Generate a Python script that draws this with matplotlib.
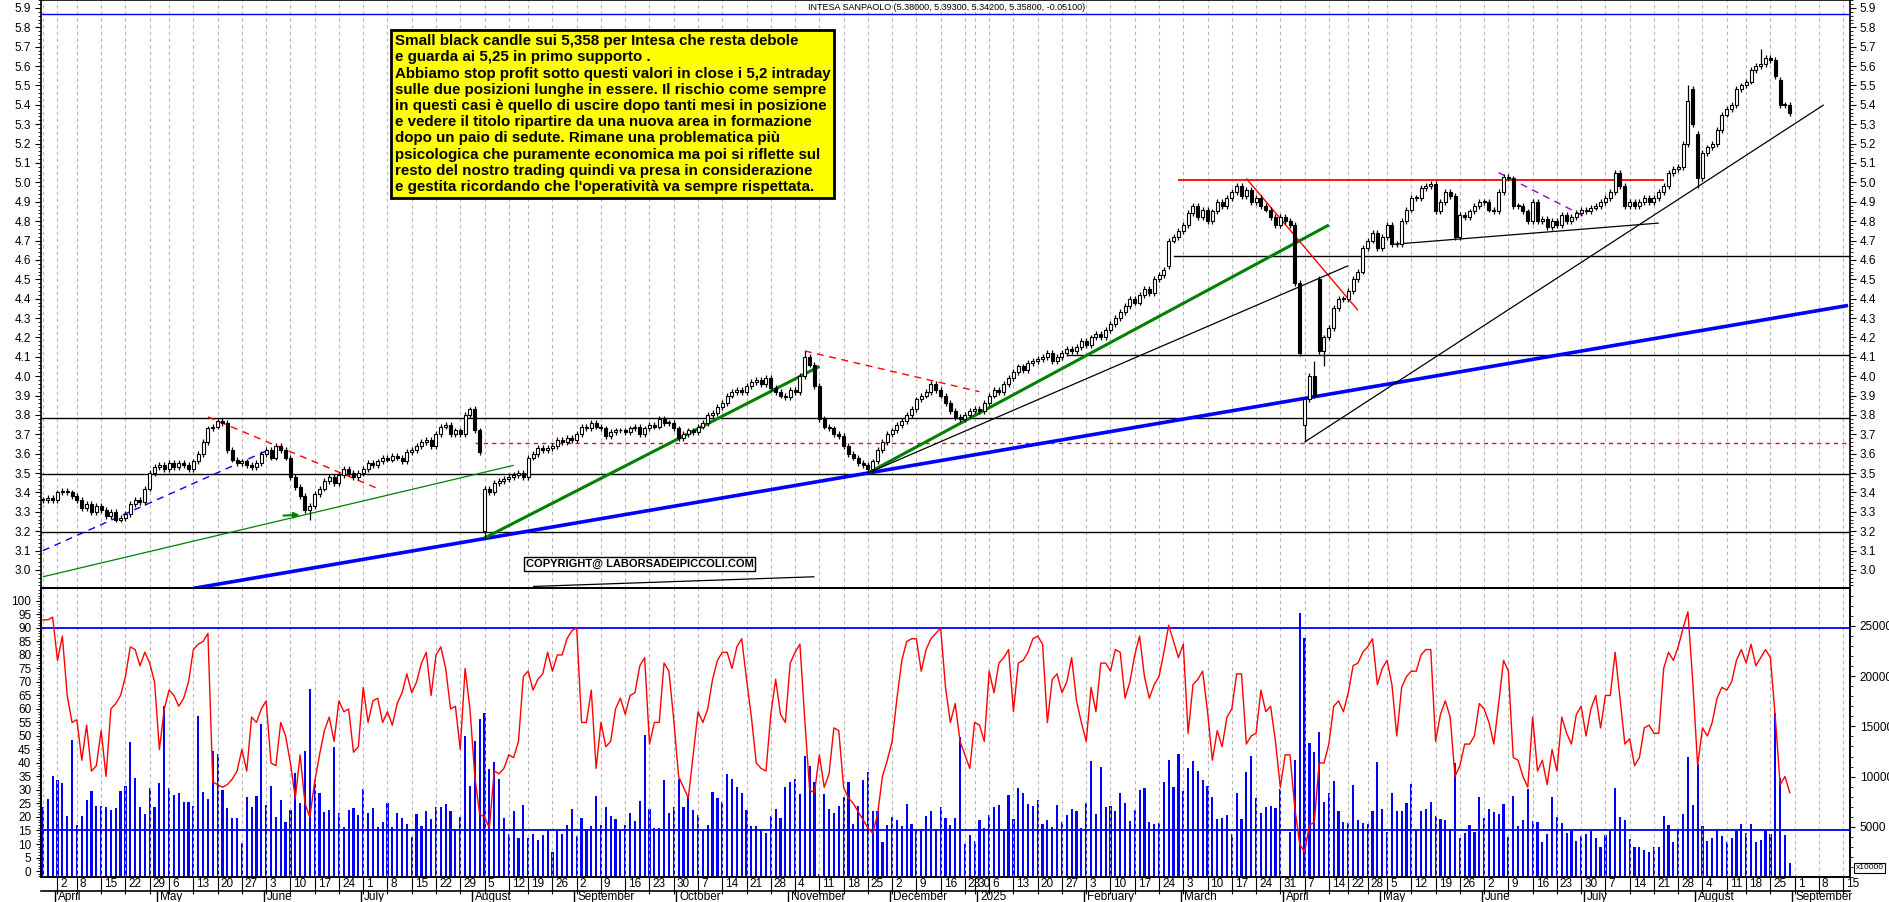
import numpy as np
import pandas as pd
import matplotlib
matplotlib.use("Agg")
import matplotlib.pyplot as plt
import matplotlib.transforms as mt
from matplotlib.lines import Line2D

plt.rcParams["font.family"] = "Liberation Sans"

# ---------------- DATA ----------------
holidays = ["2024-03-29", "2024-04-01", "2024-05-01", "2024-08-15", "2024-12-24",
            "2024-12-25", "2024-12-26", "2024-12-31", "2025-01-01", "2025-04-18",
            "2025-04-21", "2025-05-01", "2025-08-15"]

closes = [
    3.36, 3.37, 3.36,
    3.40, 3.41, 3.40, 3.38,
    3.36, 3.32, 3.34, 3.30, 3.33,
    3.31, 3.28, 3.30, 3.26, 3.27,
    3.29, 3.34, 3.36, 3.35, 3.42,
    3.50, 3.53, 3.54, 3.52,
    3.55, 3.53, 3.55, 3.54, 3.52,
    3.56, 3.60, 3.66, 3.73, 3.74,
    3.77, 3.76, 3.62, 3.57, 3.55,
    3.56, 3.54, 3.53, 3.55, 3.60,
    3.62, 3.58, 3.64, 3.62, 3.58,
    3.48, 3.43, 3.38, 3.31, 3.33,
    3.39, 3.42, 3.46, 3.48, 3.45,
    3.49, 3.52, 3.50, 3.48, 3.50,
    3.52, 3.55, 3.54, 3.56, 3.58,
    3.57, 3.59, 3.58, 3.56, 3.61,
    3.62, 3.64, 3.66, 3.67, 3.64,
    3.70, 3.74, 3.75, 3.70, 3.72,
    3.70, 3.80, 3.83, 3.72, 3.61,
    3.42, 3.40, 3.45, 3.46, 3.47,
    3.48, 3.49, 3.50, 3.48,
    3.58, 3.60, 3.63, 3.62, 3.63,
    3.64, 3.67, 3.66, 3.68, 3.67,
    3.70, 3.74, 3.73, 3.76, 3.74,
    3.73, 3.69, 3.71, 3.72, 3.72,
    3.71, 3.73, 3.74, 3.70, 3.73,
    3.75, 3.74, 3.78, 3.76, 3.76,
    3.73, 3.68, 3.70, 3.72, 3.71,
    3.74, 3.76, 3.80, 3.81, 3.84,
    3.86, 3.90, 3.92, 3.93, 3.92,
    3.95, 3.97, 3.98, 3.96, 3.99,
    3.94, 3.92, 3.90, 3.89, 3.93,
    3.92, 4.00, 4.10, 4.06, 3.95,
    3.78, 3.74, 3.73, 3.70, 3.69,
    3.64, 3.60, 3.58, 3.55, 3.54,
    3.52, 3.56, 3.62, 3.66, 3.70,
    3.72, 3.75, 3.77, 3.80, 3.83,
    3.88, 3.90, 3.92, 3.96, 3.93,
    3.90, 3.86, 3.82, 3.79, 3.78,
    3.80, 3.82,
    3.83, 3.82, 3.86,
    3.90, 3.93, 3.92, 3.96, 3.99,
    4.02, 4.05, 4.03, 4.07, 4.08,
    4.09, 4.10, 4.12, 4.08, 4.10,
    4.12, 4.14, 4.13, 4.15, 4.18,
    4.16, 4.20, 4.22, 4.20, 4.24,
    4.27, 4.30, 4.33, 4.36, 4.40,
    4.38, 4.42, 4.45, 4.43, 4.50,
    4.52, 4.55, 4.70, 4.72, 4.75,
    4.78, 4.84, 4.88, 4.82, 4.86,
    4.80, 4.85, 4.90, 4.88, 4.92,
    4.95, 4.98, 4.93, 4.96, 4.90,
    4.92, 4.88, 4.86, 4.82, 4.78,
    4.82, 4.80, 4.78, 4.48, 4.12,
    3.88, 4.00, 3.90, 4.13, 4.20,
    4.25, 4.35, 4.40, 4.40,
    4.44, 4.50, 4.54, 4.66,
    4.70, 4.74, 4.66, 4.72,
    4.78, 4.68, 4.68, 4.80, 4.86,
    4.92, 4.92, 4.97, 4.98, 4.99,
    4.85, 4.90, 4.95, 4.93, 4.72,
    4.83, 4.82, 4.85, 4.88, 4.90,
    4.90, 4.86, 4.85, 4.95, 5.03,
    5.02, 4.88, 4.88, 4.85, 4.80,
    4.90, 4.80, 4.81, 4.77, 4.80,
    4.78, 4.83, 4.80, 4.82, 4.84,
    4.86, 4.85, 4.87, 4.88, 4.90,
    4.92, 4.95, 5.05, 4.98, 4.88,
    4.90, 4.88, 4.90, 4.92, 4.90,
    4.92, 4.95, 4.98, 5.05, 5.07,
    5.08, 5.20, 5.42, 5.30, 5.02,
    5.15, 5.18, 5.20, 5.27, 5.35,
    5.38, 5.40, 5.48, 5.50,
    5.52, 5.58, 5.60, 5.61, 5.64,
    5.63, 5.55, 5.40, 5.40, 5.36,
]

gap_opens = {"2024-08-05": 3.20, "2025-04-07": 3.75, "2025-04-10": 4.50,
             "2025-07-31": 5.48, "2025-08-01": 5.25, "2025-08-27": 5.53,
             "2025-02-26": 4.57}
special_lows = {"2024-08-05": 3.16, "2025-04-07": 3.66, "2025-04-11": 4.05,
                "2025-08-01": 4.97, "2024-06-14": 3.26, "2024-11-25": 3.50}
special_highs = {"2024-11-06": 4.13, "2024-07-31": 3.84, "2025-04-09": 4.08,
                 "2025-08-21": 5.69, "2025-07-30": 5.50}

oscillator = [
    93, 93, 94, 78, 87, 65, 55, 56, 41, 54, 37, 39, 52, 35, 60, 62, 65, 72, 83, 82,
    76, 81, 77, 70, 45, 60, 67, 65, 61, 64, 70, 82, 84, 85, 88, 33, 32, 31, 32, 34,
    37, 45, 37, 57, 55, 60, 63, 40, 39, 55, 50, 40, 27, 43, 25, 20, 33, 43, 52, 57,
    48, 63, 59, 60, 44, 46, 68, 55, 63, 64, 55, 59, 54, 62, 66, 73, 66, 70, 77, 81,
    65, 80, 83, 75, 60, 61, 45, 75, 60, 35, 21,
    20, 16, 37, 36, 38, 43, 42, 48, 72, 74, 67, 71, 73, 81, 74, 80, 80, 86, 89, 90,
    55, 55, 67, 38, 55, 46, 48, 60, 64, 58, 65, 66, 76, 79, 47, 55, 55, 77, 74, 56,
    35, 31, 27, 43, 59, 55, 60, 71, 78, 81, 81, 75, 83, 86, 71, 57, 40, 38, 37, 58,
    71, 58, 55, 77, 81, 84, 56, 30, 29, 43, 31, 36, 53, 52, 31, 27, 25, 22, 19, 16,
    14, 21, 35, 41, 48, 64, 78, 85, 86, 86, 74, 82, 86, 88, 90, 68, 55, 62, 48, 43,
    38, 55, 54,
    48, 74, 66, 77, 79, 82, 59, 77, 78, 81, 86, 87, 84, 55, 71, 73, 66, 70, 79, 63,
    55, 48, 68, 59, 77, 77, 74, 82, 81, 64, 70, 80, 87, 72, 64, 69, 72, 81, 91, 85,
    79, 84, 51, 69, 71, 74, 59, 41, 52, 46, 57, 60, 73, 73, 47, 50, 51, 67, 59, 61,
    48, 31, 43, 43, 23, 10, 7, 17, 18, 40, 40, 47, 61, 63, 59, 66, 76, 77, 81, 83,
    86, 69, 75, 78, 69, 50, 68, 72, 74, 74, 80, 82, 82, 48, 58, 63, 57, 35, 39,
    47, 47, 50, 62, 60, 55, 47, 62, 78, 74, 42, 41, 35, 31, 57, 37, 41, 32, 45, 37,
    57, 51, 47, 58, 61, 50, 60, 65, 53, 65, 65, 81, 64, 47, 49, 39, 42, 53, 54, 51,
    51, 75, 81, 78, 83, 90, 96, 70, 39, 53, 50, 55, 64, 68, 67, 70, 78, 82, 77, 84,
    76, 79, 82, 79, 57, 32, 35, 29,
]

volume = [
    7000, 7760, 10100, 9670, 9400, 6100, 13640, 5180, 6070, 7670, 8560, 7100, 7100, 7000,
    6670, 6830, 8560, 9030, 13400, 9830, 7000, 6240, 8900, 6940, 9360, 17000, 8830, 8170,
    8330, 7430, 7430, 7100, 16040, 8430, 7760, 12500, 12240, 8700, 6830, 5830, 5830, 3350,
    7930, 7000, 8100, 15220, 7170, 9070, 6000, 7670, 5500, 6670, 10400, 7400, 12500, 18700,
    9640, 8330, 6440, 6670, 12900, 6400, 4950, 6670, 6830, 6170, 8760, 6340, 6900, 4950,
    5500, 7330, 4980, 6340, 5900, 5250, 3960, 6300, 5080, 6600, 5800, 7000, 7000, 7270,
    6600, 4780, 6000, 14040, 9100, 13500, 15700,
    16300, 10800, 11500, 9800, 5900, 4300, 6600, 3900, 7200, 3900, 4300, 3700, 4200, 4800,
    2500, 4600, 4300, 5200, 6800, 4100, 5900, 4800, 5100, 8100, 5200, 7000, 6100, 5800,
    4700, 5200, 6400, 5600, 7600, 14100, 6800, 4900, 4900, 9700, 6400, 7000, 9800, 7000,
    8100, 6700, 6200, 4600, 5200, 8500, 7900, 7500, 10300, 9800, 9000, 8400, 6700, 5100,
    5100, 4700, 4400, 6100, 6800, 5900, 9000, 9500, 9800, 8300, 12100, 11100, 9500, 300,
    8300, 6800, 6400, 7100, 8000, 9500, 5300, 7100, 9700, 10500, 6600, 6600, 3500, 5200,
    6000, 5700, 5100, 7300, 5300, 4800, 4800, 6100, 6600, 4800, 7000, 5900, 5200, 5900,
    13900, 3300, 4200, 3600, 5700,
    4840, 6180, 6940, 7170, 4680, 8170, 5740, 8860, 8400, 7240, 7080, 7670, 5250, 5680,
    4980, 7170, 5480, 6180, 6770, 6610, 4840, 7340, 11550, 6270, 10920, 6940, 7080, 6610,
    8400, 7340, 5580, 6670, 8660, 8900, 5450, 5280, 5350, 9500, 11650, 8960, 12250, 8560,
    10890, 11550, 10520, 9630, 9100, 7970, 5810, 5840, 6140, 4280, 8400, 5780, 10490, 12050,
    7870, 6410, 6940, 7080, 6840, 8760, 100, 4510, 11650, 26330, 23840, 13380, 12420, 14440,
    7500, 8360, 9600, 6570, 5450, 5350, 9130, 5680, 5350, 5310, 6570, 11450, 6770, 4510,
    8330, 6610, 6610, 7340, 9260, 4680, 6570, 6770, 7430, 6040, 5740, 5680, 4780, 11350,
    3920, 4350, 5180, 4520, 8000, 5840, 6740, 6510, 6270, 7240, 4020, 8070, 5080, 5680,
    8730, 5580, 5440, 3520, 4250, 8000, 5940, 5350, 4350, 4580, 3620, 4120, 4280, 4610,
    3920, 2950, 4150, 4580, 8830, 6010, 5680, 3780, 2950, 2950, 2690, 2460, 2950, 2950,
    6080, 5180, 3450, 4750, 6240, 11980, 7140, 11220, 5080, 3620, 3850, 4780, 4120, 3450,
    3920, 4550, 5280, 4350, 5280, 3450, 3690, 4680, 4250, 16300, 9830, 4180, 1360,
]

price_ticks = [round(3.0 + 0.1 * k, 1) for k in range(30)]
osc_ticks = list(range(0, 101, 5))
vol_ticks = [5000, 10000, 15000, 20000, 25000]

h_lines = [  # (price, start date or None, colour, style, width)
    (5.87, None, "blue", "-", 1.0),
    (4.62, "2025-02-27", "black", "-", 1.0),
    (4.11, "2025-01-28", "black", "-", 1.0),
    (3.785, None, "black", "-", 1.0),
    (3.495, None, "black", "-", 1.0),
    (3.195, None, "black", "-", 1.0),
    (3.655, "2024-08-01", "red", (0, (3, 3)), 1.0),
]
seg_lines = [  # (date1, p1, date2, p2, colour, style, width)
    ("2024-05-13", 2.905, "2025-09-16", 4.365, "blue", "-", 2.6),
    ("2024-08-05", 3.165, "2024-11-11", 4.05, "green", "-", 2.2),
    ("2024-11-25", 3.50, "2025-04-14", 4.78, "green", "-", 2.2),
    ("2024-03-26", 2.965, "2024-08-13", 3.54, "green", "-", 0.9),
    ("2024-03-26", 3.10, "2024-06-04", 3.625, "blue", (0, (5, 4)), 1.0),
    ("2024-05-16", 3.79, "2024-07-04", 3.42, "red", (0, (5, 4)), 1.0),
    ("2024-11-06", 4.13, "2025-01-02", 3.92, "red", (0, (5, 4)), 1.0),
    ("2025-03-20", 5.02, "2025-04-24", 4.34, "red", "-", 1.0),
    ("2025-02-28", 5.01, "2025-07-23", 5.01, "red", "-", 1.3),
    ("2024-11-25", 3.50, "2025-04-22", 4.57, "black", "-", 0.9),
    ("2025-04-07", 3.66, "2025-09-09", 5.40, "black", "-", 0.9),
    ("2025-05-06", 4.68, "2025-07-22", 4.79, "black", "-", 0.9),
    ("2025-06-05", 5.05, "2025-07-01", 4.82, "darkviolet", (0, (5, 4)), 1.0),
    ("2024-08-20", 2.915, "2024-11-08", 2.965, "black", "-", 0.9),
]

comment = ("Small black candle sui 5,358 per Intesa che resta debole\n"
           "e guarda ai 5,25 in primo supporto .\n"
           "Abbiamo stop profit sotto questi valori in close i 5,2 intraday\n"
           "sulle due posizioni lunghe in essere. Il rischio come sempre\n"
           "in questi casi è quello di uscire dopo tanti mesi in posizione\n"
           "e vedere il titolo ripartire da una nuova area in formazione\n"
           "dopo un paio di sedute. Rimane una problematica più\n"
           "psicologica che puramente economica ma poi si riflette sul\n"
           "resto del nostro trading quindi va presa in considerazione\n"
           "e gestita ricordando che l'operatività va sempre rispettata.")
title = "INTESA SANPAOLO (5.38000, 5.39300, 5.34200, 5.35800, -0.05100)"
months_it = {1: "2025", 2: "February", 3: "March", 4: "April", 5: "May", 6: "June",
             7: "July", 8: "August", 9: "September", 10: "October", 11: "November",
             12: "December"}

# ---------------- CALENDAR ----------------
cal = pd.bdate_range("2024-03-26", "2025-09-20")
cal = cal[~cal.isin(pd.to_datetime(holidays))]
pos = {d.strftime("%Y-%m-%d"): i for i, d in enumerate(cal)}
n = len(closes)
x = np.arange(n)
c = np.array(closes)
o = np.empty(n)
o[0] = c[0]
o[1:] = c[:-1]
for d, v in gap_opens.items():
    o[pos[d]] = v
hi = np.maximum(o, c) + 0.015
lo = np.minimum(o, c) - 0.015
for d, v in special_lows.items():
    lo[pos[d]] = v
for d, v in special_highs.items():
    hi[pos[d]] = v

W, H = 1890, 902
fig = plt.figure(figsize=(W / 100, H / 100), dpi=100)
L, R = 41, 1850
XMIN = -0.4
XMAX = 372.4

ax = fig.add_axes([L / W, (H - 588) / H, (R - L) / W, 588 / H])
axv = fig.add_axes([L / W, (H - 877) / H, (R - L) / W, (877 - 588) / H])
axr = axv.twinx()

for a in (ax, axv, axr):
    a.set_xlim(XMIN, XMAX)

ax.set_ylim(2.907, 5.941)
axv.set_ylim(-2.22, 104.8)
axr.set_ylim(0, 28784)

weeks = pd.Series(cal).groupby(cal.to_period("W")).first().tolist()
week_idx = [cal.get_loc(d) for d in weeks]
for a in (ax, axv):
    for wi in week_idx:
        if XMIN < wi < XMAX:
            a.axvline(wi, color="#b4b4b4", lw=0.8, ls=(0, (3, 3)), zorder=0)

for p, start, col, ls, lw in h_lines:
    x0 = XMIN if start is None else pos[start]
    ax.plot([x0, XMAX], [p, p], color=col, ls=ls, lw=lw, zorder=2)
for d1, p1, d2, p2, col, ls, lw in seg_lines:
    ax.plot([pos[d1], pos[d2]], [p1, p2], color=col, ls=ls, lw=lw, zorder=2,
            solid_capstyle="butt")
ax.annotate("", xy=(pos["2024-06-12"] + 0.5, 3.285), xytext=(pos["2024-06-11"] - 3, 3.28),
            arrowprops=dict(arrowstyle="-|>", color="green", lw=1.5, mutation_scale=8))

# candles
ax.vlines(x, lo, hi, color="black", lw=0.9, zorder=3)
up = c >= o
body_h = np.maximum(np.abs(c - o), 0.004)
ax.bar(x[up], body_h[up], bottom=np.minimum(o, c)[up], width=0.62, color="white",
       edgecolor="black", lw=0.8, zorder=4)
ax.bar(x[~up], body_h[~up], bottom=np.minimum(o, c)[~up], width=0.62, color="black",
       edgecolor="black", lw=0.8, zorder=4)

ax.text(pos["2024-07-10"] - 0.5, 5.765, comment, fontsize=10.9, fontweight="bold",
        va="top", ha="left", linespacing=1.2, zorder=6,
        bbox=dict(boxstyle="square,pad=0.25", fc="yellow", ec="black", lw=2))
ax.text(pos["2024-08-20"] - 1.5, 3.03, "COPYRIGHT@ LABORSADEIPICCOLI.COM", fontsize=8,
        fontweight="bold", va="center", ha="left", zorder=6,
        bbox=dict(boxstyle="square,pad=0.15", fc="white", ec="black", lw=1))
fig.text(808 / W, 1 - 7 / H, title, fontsize=6.5, va="center", ha="left")

ax.set_yticks(price_ticks)
ax.set_yticklabels([f"{t:.1f}" for t in price_ticks])
ax.set_yticks(np.arange(2.92, 5.94, 0.02), minor=True)
ax.tick_params(axis="y", which="both", left=True, right=True, labelleft=True,
               labelright=True, direction="out", labelsize=8.5)
ax.tick_params(axis="y", which="minor", length=2)
ax.tick_params(axis="y", which="major", length=4, pad=3)
ax.set_xticks([])

# lower panel
axr.bar(x, volume, width=0.45, color="blue", zorder=2, linewidth=0)
axv.set_zorder(axr.get_zorder() + 1)
axv.patch.set_visible(False)
axv.plot(x, oscillator, color="red", lw=1.0, zorder=4)
axv.axhline(90, color="blue", lw=1.3, zorder=3)
axv.axhline(15, color="blue", lw=1.3, zorder=3)
axv.set_yticks(osc_ticks)
axv.set_yticks(np.arange(-2, 105, 1), minor=True)
axv.tick_params(axis="y", which="both", left=True, right=False, labelsize=8.5)
axv.tick_params(axis="y", which="minor", length=2)
axr.set_yticks(vol_ticks)
axr.set_yticks(np.arange(0, 28784, 1000), minor=True)
axr.tick_params(axis="y", which="both", labelsize=8.5)
axr.tick_params(axis="y", which="minor", length=2)
axr.text(1.003, 0.02, "x10000", transform=axr.transAxes, fontsize=6, va="bottom",
         ha="left", bbox=dict(boxstyle="square,pad=0.2", fc="white", ec="black", lw=0.8))
for a in (ax, axv, axr):
    for s in a.spines.values():
        s.set_color("black")
        s.set_linewidth(1.2)

vis_weeks = [(wi, cal[wi]) for wi in week_idx if 0 < wi < XMAX]
axv.set_xticks([wi for wi, _ in vis_weeks])
axv.set_xticklabels([str(d.day) for _, d in vis_weeks], ha="left")
axv.tick_params(axis="x", length=12, pad=-11, labelsize=8.5, direction="out")
offset = mt.ScaledTranslation(3 / 100, 0, fig.dpi_scale_trans)
for lab in axv.get_xticklabels():
    lab.set_transform(lab.get_transform() + offset)

trans = mt.blended_transform_factory(axv.transData, fig.transFigure)
fig.add_artist(Line2D([L / W, R / W], [1 - 891 / H, 1 - 891 / H], color="black", lw=1.2,
                      transform=fig.transFigure))
month_first = pd.Series(cal).groupby(cal.to_period("M")).first().tolist()
for d in month_first:
    mi = cal.get_loc(d)
    if 0 < mi < XMAX:
        xm = mi - 0.5
        fig.add_artist(Line2D([xm, xm], [1 - 891 / H, 0], color="black", lw=1.0,
                              transform=trans))
        fig.text(xm + 0.6, 1 - 897 / H, months_it[d.month], fontsize=8.5,
                 va="center", ha="left", transform=trans)

fig.savefig("out.png", dpi=100)
